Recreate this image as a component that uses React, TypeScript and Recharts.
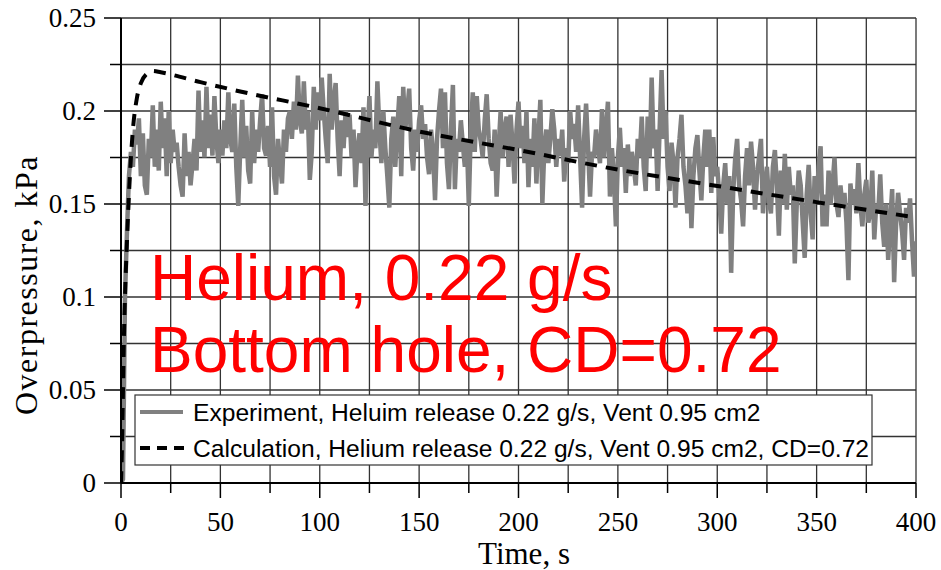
import React from 'react';
import { LineChart, Line, XAxis, YAxis, CartesianGrid, Customized } from 'recharts';

// experiment, one reading per second from t = 0 to 400 s (kPa)
const expValues = [
  0, 0.002, 0.1, 0.135, 0.165, 0.178, 0.17, 0.19, 0.182, 0.196,
  0.165, 0.188, 0.16, 0.155, 0.185, 0.175, 0.203, 0.17, 0.19, 0.168,
  0.205, 0.18, 0.196, 0.165, 0.2, 0.172, 0.19, 0.178, 0.183, 0.17,
  0.16, 0.154, 0.188, 0.165, 0.178, 0.16, 0.172, 0.185, 0.168, 0.211,
  0.178, 0.195, 0.175, 0.213, 0.18, 0.198, 0.176, 0.208, 0.185, 0.172,
  0.19, 0.176, 0.195, 0.18, 0.21, 0.185, 0.178, 0.204, 0.17, 0.149,
  0.18, 0.206, 0.175, 0.192, 0.168, 0.161, 0.2, 0.172, 0.19, 0.178,
  0.195, 0.209, 0.18, 0.176, 0.192, 0.17, 0.202, 0.165, 0.155, 0.185,
  0.172, 0.161, 0.19, 0.178, 0.196, 0.2, 0.185, 0.205, 0.19, 0.219,
  0.195, 0.188, 0.216, 0.19, 0.2, 0.163, 0.178, 0.213, 0.19, 0.21,
  0.195, 0.218, 0.2, 0.185, 0.172, 0.22, 0.19, 0.205, 0.215, 0.185,
  0.165, 0.195, 0.18, 0.2, 0.186, 0.198, 0.175, 0.19, 0.159, 0.18,
  0.188, 0.172, 0.202, 0.149, 0.185, 0.208, 0.175, 0.19, 0.18, 0.216,
  0.19, 0.172, 0.2, 0.18, 0.165, 0.148, 0.185, 0.197, 0.17, 0.19,
  0.208, 0.165, 0.213, 0.19, 0.2, 0.212, 0.18, 0.168, 0.19, 0.178,
  0.195, 0.203, 0.185, 0.193, 0.175, 0.166, 0.19, 0.178, 0.152, 0.185,
  0.2, 0.212, 0.18, 0.21, 0.172, 0.158, 0.19, 0.214, 0.158, 0.185,
  0.178, 0.195, 0.182, 0.17, 0.185, 0.149, 0.19, 0.21, 0.178, 0.208,
  0.19, 0.184, 0.175, 0.195, 0.209, 0.185, 0.172, 0.168, 0.19, 0.154,
  0.18, 0.2, 0.175, 0.19, 0.197, 0.17, 0.198, 0.182, 0.161, 0.19,
  0.205, 0.18, 0.192, 0.172, 0.2, 0.159, 0.185, 0.17, 0.196, 0.161,
  0.185, 0.206, 0.15, 0.18, 0.19, 0.172, 0.185, 0.201, 0.19, 0.17,
  0.185, 0.176, 0.19, 0.162, 0.18, 0.172, 0.2, 0.185, 0.193, 0.178,
  0.203, 0.175, 0.148, 0.185, 0.204, 0.18, 0.154, 0.178, 0.175, 0.19,
  0.18, 0.172, 0.201, 0.175, 0.19, 0.205, 0.154, 0.18, 0.165, 0.138,
  0.175, 0.191, 0.17, 0.18, 0.156, 0.182, 0.165, 0.178, 0.17, 0.16,
  0.185, 0.175, 0.197, 0.17, 0.157, 0.197, 0.175, 0.218, 0.18, 0.19,
  0.157, 0.19, 0.222, 0.185, 0.2, 0.17, 0.157, 0.183, 0.172, 0.148,
  0.175, 0.185, 0.198, 0.17, 0.16, 0.145, 0.175, 0.137, 0.165, 0.18,
  0.187, 0.168, 0.152, 0.175, 0.19, 0.17, 0.19, 0.156, 0.186, 0.165,
  0.17, 0.155, 0.134, 0.16, 0.172, 0.15, 0.165, 0.113, 0.156, 0.174,
  0.185, 0.16, 0.152, 0.138, 0.165, 0.18, 0.16, 0.1835, 0.17, 0.147,
  0.165, 0.175, 0.185, 0.145, 0.16, 0.17, 0.152, 0.145, 0.17, 0.179,
  0.16, 0.133, 0.168, 0.15, 0.177, 0.147, 0.17, 0.155, 0.16, 0.118,
  0.15, 0.168, 0.16, 0.14, 0.121, 0.155, 0.171, 0.145, 0.131, 0.165,
  0.15, 0.17, 0.181, 0.138, 0.155, 0.138, 0.168, 0.15, 0.16, 0.175,
  0.15, 0.143, 0.16, 0.148, 0.156, 0.14, 0.109, 0.161, 0.15, 0.158,
  0.145, 0.172, 0.15, 0.138, 0.155, 0.163, 0.14, 0.145, 0.168, 0.131,
  0.15, 0.145, 0.166, 0.14, 0.127, 0.15, 0.12, 0.14, 0.158, 0.108,
  0.14, 0.156, 0.145, 0.135, 0.12, 0.148, 0.14, 0.153, 0.13, 0.111,
  0.13,
];

// calculation (CD = 0.72)
const calcTimes = [0, 0.5, 1, 1.5, 2, 3, 4, 5, 6, 8, 10, 13, 16, 20, 40, 60, 100, 150, 200, 250, 300, 350, 400];
const calcValues = [0, 0.02, 0.05, 0.08, 0.1, 0.13, 0.155, 0.175, 0.19, 0.207, 0.215, 0.22, 0.2215, 0.2208, 0.2155, 0.2105, 0.2015, 0.189, 0.179, 0.1685, 0.1597, 0.151, 0.1428];

const xTicks = [0, 25, 50, 75, 100, 125, 150, 175, 200, 225, 250, 275, 300, 325, 350, 375, 400];
const yTicks = [0, 0.025, 0.05, 0.075, 0.1, 0.125, 0.15, 0.175, 0.2, 0.225, 0.25];

const legendLabels = [
  'Experiment, Heluim release 0.22 g/s, Vent 0.95 cm2',
  'Calculation, Helium release 0.22 g/s, Vent 0.95 cm2, CD=0.72',
];
const noteLines = ['Helium, 0.22 g/s', 'Bottom hole, CD=0.72'];

const expData = expValues.map((v, i) => ({ t: i, v }));
const calcData = calcTimes.map((t, i) => ({ t, v: calcValues[i] }));

const SERIF = '"Liberation Serif", "Times New Roman", serif';
const SANS = '"Liberation Sans", Arial, sans-serif';

const XTick: React.FC<any> = ({ x, y, payload }) => {
  const major = payload.value % 50 === 0;
  return (
    <g>
      <line x1={x} x2={x} y1={y} y2={y + (major ? 15 : 10)} stroke="#000" strokeWidth={1.5} />
      {major && (
        <text x={x} y={y + 48} textAnchor="middle" fontFamily={SERIF} fontSize={27} fill="#000">
          {payload.value}
        </text>
      )}
    </g>
  );
};

const YTick: React.FC<any> = ({ x, y, payload }) => {
  const major = Math.round(payload.value * 1000) % 50 === 0;
  return (
    <g>
      <line x1={x} x2={x - (major ? 17 : 11)} y1={y} y2={y} stroke="#000" strokeWidth={1.5} />
      {major && (
        <text x={x - 25} y={y + 9} textAnchor="end" fontFamily={SERIF} fontSize={27} fill="#000">
          {String(payload.value)}
        </text>
      )}
    </g>
  );
};

const Overlay: React.FC<any> = () => (
  <g>
    {noteLines.map((s, i) => (
      <text key={s} x={150} y={300 + i * 72} fontFamily={SANS} fontSize={64} fill="#ff0000">
        {s}
      </text>
    ))}
    <rect x={135} y={395} width={737} height={70} fill="#fff" stroke="#333" strokeWidth={1.2} />
    <line x1={140} x2={183} y1={412} y2={412} stroke="#808080" strokeWidth={4} />
    <line x1={140} x2={186} y1={448} y2={448} stroke="#000" strokeWidth={4} strokeDasharray="10 7" />
    {legendLabels.map((s, i) => (
      <text key={s} x={193} y={421 + i * 36} fontFamily={SANS} fontSize={24.6} fill="#000">
        {s}
      </text>
    ))}
    <text x={524} y={564} textAnchor="middle" fontFamily={SERIF} fontSize={31} fill="#000">
      Time, s
    </text>
    <text
      x={37}
      y={285}
      textAnchor="middle"
      fontFamily={SERIF}
      fontSize={32}
      letterSpacing={1.5}
      fill="#000"
      transform="rotate(-90 37 285)"
    >
      Overpressure, kPa
    </text>
  </g>
);

export default function App() {
  return (
    <div style={{ width: 941, height: 570, background: '#fff' }}>
      <style>{'body{margin:0;overflow:hidden;background:#fff}'}</style>
      <LineChart width={941} height={570} margin={{ top: 18, right: 25, bottom: 0, left: 0 }}>
        <CartesianGrid stroke="#333" strokeWidth={1.3} horizontalValues={yTicks} verticalValues={xTicks} />
        <XAxis
          type="number"
          dataKey="t"
          domain={[0, 400]}
          ticks={xTicks}
          interval={0}
          height={87}
          tickSize={0}
          tickMargin={0}
          tick={<XTick />}
          axisLine={{ stroke: '#000', strokeWidth: 2 }}
          allowDataOverflow
        />
        <YAxis
          type="number"
          domain={[0, 0.25]}
          ticks={yTicks}
          interval={0}
          width={121}
          tickSize={0}
          tickMargin={0}
          tick={<YTick />}
          axisLine={{ stroke: '#000', strokeWidth: 2 }}
          allowDataOverflow
        />
        <Line
          data={expData}
          dataKey="v"
          type="linear"
          stroke="#808080"
          strokeWidth={4.5}
          dot={false}
          isAnimationActive={false}
        />
        <Line
          data={calcData}
          dataKey="v"
          type="monotone"
          stroke="#000"
          strokeWidth={4}
          strokeDasharray="12 9"
          dot={false}
          isAnimationActive={false}
        />
        <Customized component={Overlay} />
      </LineChart>
    </div>
  );
}
